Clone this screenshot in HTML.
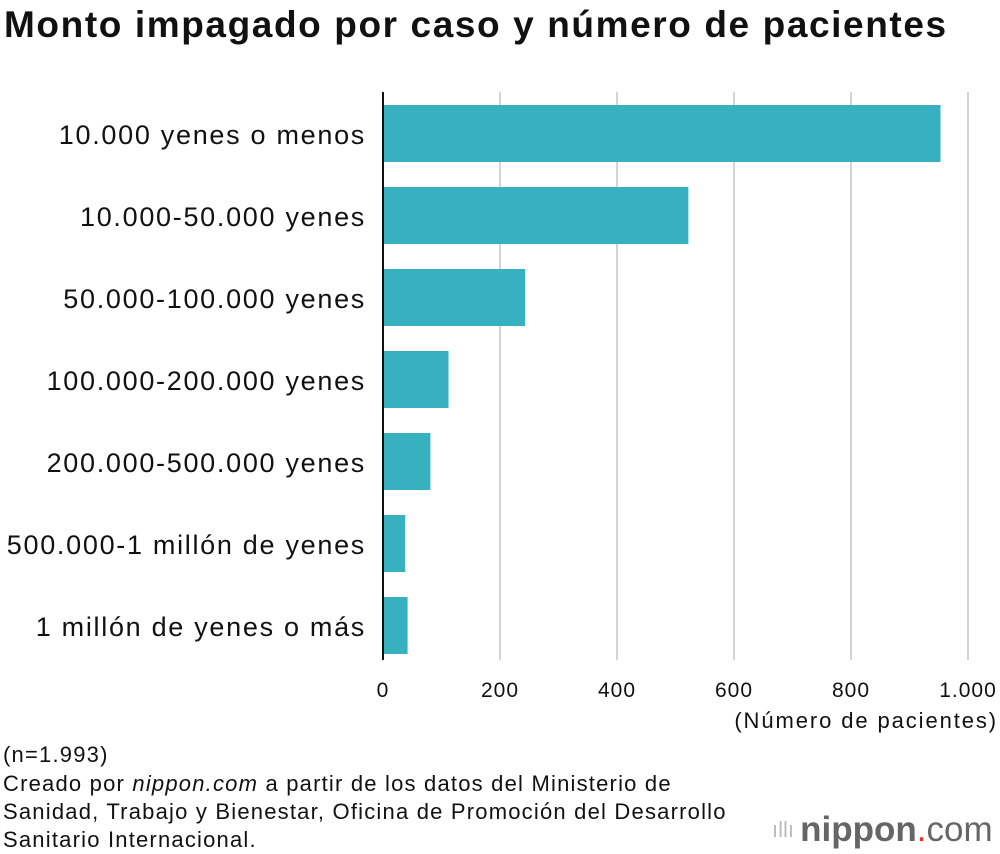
<!DOCTYPE html>
<html><head><meta charset="utf-8"><style>
body{margin:0;background:#fff;width:1000px;height:854px;overflow:hidden;font-family:"Liberation Sans",sans-serif;color:#111}
#title{position:absolute;left:4px;top:4px;font-size:37px;font-weight:bold;letter-spacing:1.6px;white-space:nowrap}
.note{position:absolute;left:3px;font-size:22px;line-height:28px;letter-spacing:1.2px;white-space:nowrap}
</style></head><body>
<div id="title">Monto impagado por caso y número de pacientes</div>
<svg id="chart" width="1000" height="854" style="position:absolute;left:0;top:0"></svg>
<div class="note" style="top:741px">(n=1.993)</div>
<div class="note" style="top:770px">Creado por <i>nippon.com</i> a partir de los datos del Ministerio de<br>Sanidad, Trabajo y Bienestar, Oficina de Promoción del Desarrollo<br>Sanitario Internacional.</div>
<div style="position:absolute;left:772px;top:810px;font-size:35px;color:#666;white-space:nowrap"><span style="color:#bbb;font-size:22px;vertical-align:4px">ıllı </span><b>nippon</b><span style="color:#e33">.</span>com</div>
<script>
const categories=["10.000 yenes o menos","10.000-50.000 yenes","50.000-100.000 yenes","100.000-200.000 yenes","200.000-500.000 yenes","500.000-1 millón de yenes","1 millón de yenes o más"];
const values=[953,522,243,112,81,38,42];
const ticks=[0,200,400,600,800,1000];
const tickLabels=["0","200","400","600","800","1.000"];
const svg=document.getElementById('chart');
const NS='http://www.w3.org/2000/svg';
const x0=383,x1=968,vmax=1000;
const xs=v=>x0+(v/vmax)*(x1-x0);
const yTop=i=>105+i*82;
function mk(t,a){const e=document.createElementNS(NS,t);for(const k in a)e.setAttribute(k,a[k]);svg.appendChild(e);return e;}
ticks.forEach((t,i)=>{
  if(t>0){const g=mk('line',{x1:xs(t),x2:xs(t),y1:92,y2:660,stroke:'#d4d4d4','stroke-width':2});
  
  }
  const l=mk('text',{x:xs(t),y:697,'font-size':21,'letter-spacing':1,'text-anchor':'middle','font-family':'Liberation Sans, sans-serif',fill:'#111'});
  l.textContent=tickLabels[i];
  
  
});
values.forEach((v,i)=>{
  const r=mk('rect',{x:x0,y:yTop(i),width:xs(v)-x0,height:57,fill:'#37b0c0'});
  
  
  const l=mk('text',{x:366,y:yTop(i)+39,'font-size':27,'letter-spacing':1.7,'text-anchor':'end','font-family':'Liberation Sans, sans-serif',fill:'#111'});
  l.textContent=categories[i];
  
  
});
const ax=mk('line',{x1:x0,x2:x0,y1:92,y2:660,stroke:'#111','stroke-width':2});


const at=mk('text',{x:998,y:728,'font-size':22,'letter-spacing':1.9,'text-anchor':'end','font-family':'Liberation Sans, sans-serif',fill:'#111'});
at.textContent='(Número de pacientes)';


</script>
</body></html>
